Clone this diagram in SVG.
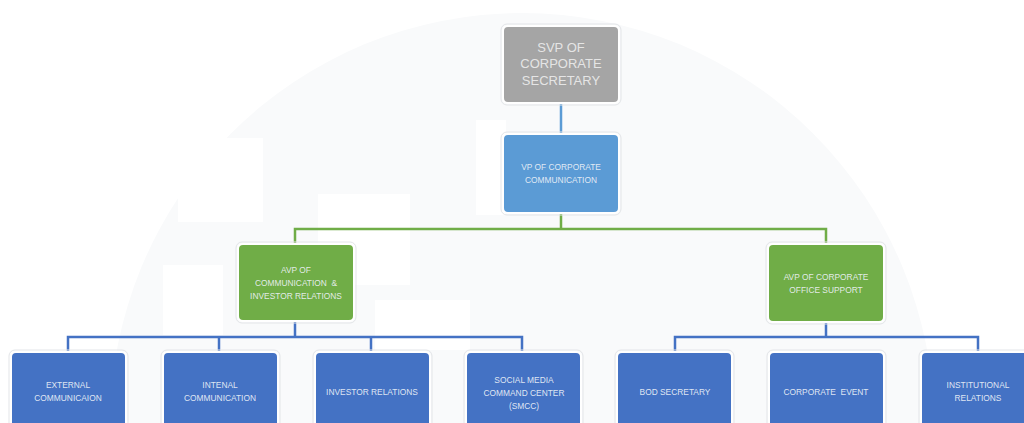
<svg xmlns="http://www.w3.org/2000/svg" width="1024" height="423" viewBox="0 0 1024 423">
<style>
.nb{stroke:#ffffff;stroke-width:2}
.halo{fill:none;stroke:#e3e5e8;stroke-width:1}
.t{font-family:"Liberation Sans",Arial,sans-serif;text-anchor:middle;fill:#eef2f8;fill-opacity:0.92;white-space:pre}
.s{font-size:8.4px}
.g{fill:#ececec;font-size:13px}
.cg{fill:none;stroke:#70ad47;stroke-width:2.5}
.cb{fill:none;stroke:#4472c4;stroke-width:2.5}
.cl{fill:none;stroke:#5b9bd5;stroke-width:2.5}
</style>
<rect width="1024" height="423" fill="#ffffff"/>
<g id="background">
<circle cx="522" cy="425" r="412" fill="#f9fafb"/>
<rect x="178" y="138" width="85" height="84" fill="#ffffff"/>
<rect x="318" y="194" width="92" height="91" fill="#ffffff"/>
<rect x="476" y="120" width="30" height="95" fill="#ffffff"/>
<rect x="163" y="265" width="60" height="70" fill="#ffffff"/>
<rect x="375" y="300" width="95" height="50" fill="#ffffff"/>
</g>
<g id="connectors">
<line class="cl" x1="561" y1="102" x2="561" y2="135"/>
<polyline class="cg" points="561,212 561,229"/>
<polyline class="cg" points="295,245 295,229 826,229 826,245"/>
<polyline class="cb" points="295,320 295,337"/>
<polyline class="cb" points="68,353 68,337 522,337 522,353"/>
<line class="cb" x1="219" y1="337" x2="219" y2="353"/>
<line class="cb" x1="371" y1="337" x2="371" y2="353"/>
<polyline class="cb" points="826,321 826,337"/>
<polyline class="cb" points="675,353 675,337 978,337 978,353"/>
</g>
<g id="svp">
<rect class="halo" x="501" y="24" width="120" height="81" rx="6"/>
<rect class="nb" x="503" y="26" width="116" height="77" rx="5" fill="#a5a5a5"/>
<text class="t g" x="561" y="52">SVP OF</text>
<text class="t g" x="561" y="68">CORPORATE</text>
<text class="t g" x="561" y="85">SECRETARY</text>
</g>
<g id="vp">
<rect class="halo" x="501" y="132" width="120" height="83" rx="6"/>
<rect class="nb" x="503" y="134" width="116" height="79" rx="5" fill="#5b9bd5"/>
<text class="t s" x="561" y="170">VP OF CORPORATE</text>
<text class="t s" x="561" y="183">COMMUNICATION</text>
</g>
<g id="avp-comm">
<rect class="halo" x="236" y="242" width="120" height="81" rx="6"/>
<rect class="nb" x="238" y="244" width="116" height="77" rx="5" fill="#70ad47"/>
<text class="t s" x="296" y="273">AVP OF</text>
<text class="t s" x="296" y="286">COMMUNICATION  &amp;</text>
<text class="t s" x="296" y="299">INVESTOR RELATIONS</text>
</g>
<g id="avp-office">
<rect class="halo" x="766" y="242" width="120" height="82" rx="6"/>
<rect class="nb" x="768" y="244" width="116" height="78" rx="5" fill="#70ad47"/>
<text class="t s" x="826" y="280">AVP OF CORPORATE</text>
<text class="t s" x="826" y="293">OFFICE SUPPORT</text>
</g>
<g id="external">
<rect class="halo" x="9" y="350" width="119" height="90" rx="6"/>
<rect class="nb" x="11" y="352" width="115" height="86" rx="5" fill="#4472c4"/>
<text class="t s" x="68" y="388">EXTERNAL</text>
<text class="t s" x="68" y="401">COMMUNICAION</text>
</g>
<g id="internal">
<rect class="halo" x="161" y="350" width="119" height="90" rx="6"/>
<rect class="nb" x="163" y="352" width="115" height="86" rx="5" fill="#4472c4"/>
<text class="t s" x="220" y="388">INTENAL</text>
<text class="t s" x="220" y="401">COMMUNICATION</text>
</g>
<g id="investor">
<rect class="halo" x="313" y="350" width="119" height="90" rx="6"/>
<rect class="nb" x="315" y="352" width="115" height="86" rx="5" fill="#4472c4"/>
<text class="t s" x="372" y="395">INVESTOR RELATIONS</text>
</g>
<g id="smcc">
<rect class="halo" x="464" y="350" width="119" height="90" rx="6"/>
<rect class="nb" x="466" y="352" width="115" height="86" rx="5" fill="#4472c4"/>
<text class="t s" x="524" y="383">SOCIAL MEDIA</text>
<text class="t s" x="524" y="396">COMMAND CENTER</text>
<text class="t s" x="524" y="409">(SMCC)</text>
</g>
<g id="bod">
<rect class="halo" x="615" y="350" width="119" height="90" rx="6"/>
<rect class="nb" x="617" y="352" width="115" height="86" rx="5" fill="#4472c4"/>
<text class="t s" x="675" y="395">BOD SECRETARY</text>
</g>
<g id="event">
<rect class="halo" x="767" y="350" width="119" height="90" rx="6"/>
<rect class="nb" x="769" y="352" width="115" height="86" rx="5" fill="#4472c4"/>
<text class="t s" x="826" y="395">CORPORATE  EVENT</text>
</g>
<g id="institutional">
<rect class="halo" x="919" y="350" width="119" height="90" rx="6"/>
<rect class="nb" x="921" y="352" width="115" height="86" rx="5" fill="#4472c4"/>
<text class="t s" x="978" y="388">INSTITUTIONAL</text>
<text class="t s" x="978" y="401">RELATIONS</text>
</g>
</svg>
